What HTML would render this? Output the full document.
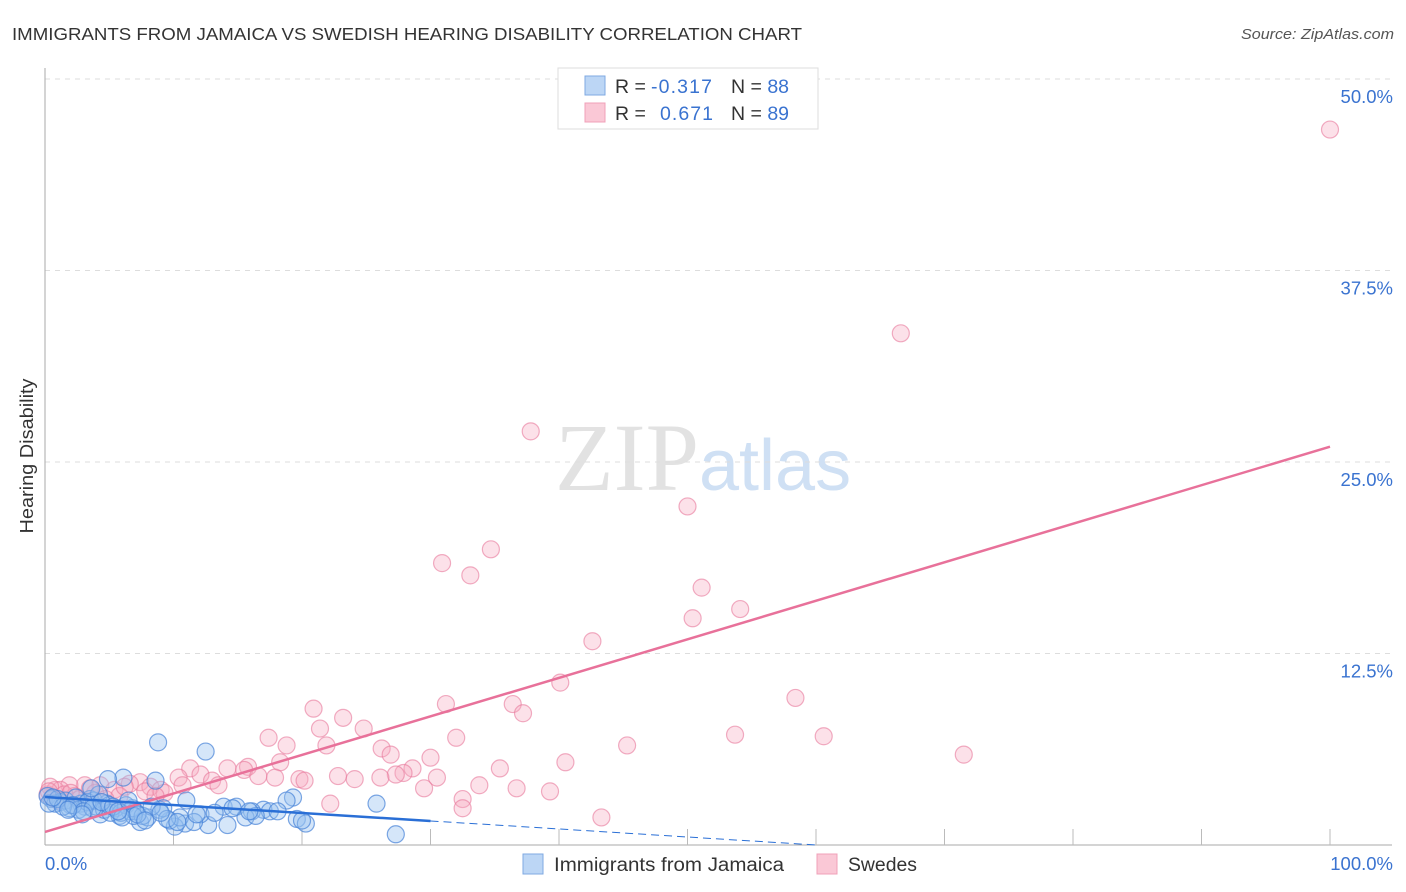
<!DOCTYPE html>
<html><head><meta charset="utf-8"><style>
body{margin:0;background:#fff;font-family:"Liberation Sans",sans-serif;}
svg{display:block}
</style></head><body>
<svg id="chart" width="1406" height="892" xmlns="http://www.w3.org/2000/svg">
<text x="12" y="40" font-size="17.5" fill="#333" textLength="790" lengthAdjust="spacingAndGlyphs">IMMIGRANTS FROM JAMAICA VS SWEDISH HEARING DISABILITY CORRELATION CHART</text>
<text x="1241" y="39" font-size="14.5" fill="#555" font-style="italic" textLength="153" lengthAdjust="spacingAndGlyphs">Source: ZipAtlas.com</text>
<text x="555" y="490" font-size="96" font-family="Liberation Serif,serif"><tspan fill="#e2e2e2">ZIP</tspan><tspan fill="#cfe0f4" font-family="Liberation Sans,sans-serif" font-size="72">atlas</tspan></text>
<text transform="translate(33,456) rotate(-90)" font-size="18" fill="#333" text-anchor="middle" textLength="155" lengthAdjust="spacingAndGlyphs">Hearing Disability</text>
<g id="grid"></g><g id="marks"></g>
<g>
<rect x="558" y="68" width="260" height="61" fill="#fff" stroke="#ddd"/>
<rect x="585" y="76" width="20" height="19" fill="#bcd6f5" stroke="#7fa9e2"/>
<rect x="585" y="103" width="20" height="19" fill="#fac8d6" stroke="#f0a0b8"/>
<text x="615" y="93" font-size="19.5" fill="#333">R = </text>
<text x="651" y="93" font-size="19.5" fill="#3a73d0" textLength="61">-0.317</text>
<text x="731" y="93" font-size="19.5" fill="#333">N = <tspan fill="#3a73d0">88</tspan></text>
<text x="615" y="120" font-size="19.5" fill="#333">R = </text>
<text x="660" y="120" font-size="19.5" fill="#3a73d0" textLength="53">0.671</text>
<text x="731" y="120" font-size="19.5" fill="#333">N = <tspan fill="#3a73d0">89</tspan></text>
</g>
<g>
<rect x="523" y="854" width="20" height="20" fill="#bcd6f5" stroke="#7fa9e2"/>
<text x="554" y="871" font-size="19" fill="#333" textLength="230" lengthAdjust="spacingAndGlyphs">Immigrants from Jamaica</text>
<rect x="817" y="854" width="20" height="20" fill="#fac8d6" stroke="#f0a0b8"/>
<text x="848" y="871" font-size="19" fill="#333" textLength="69" lengthAdjust="spacingAndGlyphs">Swedes</text>
</g>
</svg>
<script>
const yTicks=[12.5,25,37.5,50];
const yTickLabels=["12.5%","25.0%","37.5%","50.0%"];
const xTickLabels=["0.0%","100.0%"];
const pinkX=[100,66.6,37.8,50.0,34.7,30.9,33.1,51.1,54.1,50.4,42.6,40.1,58.4,31.2,36.4,37.2,20.9,23.2,24.8,21.4,53.7,60.6,32.0,17.4,18.8,21.9,45.3,26.2,71.5,26.9,30.0,40.5,18.3,11.3,35.4,28.6,15.8,14.2,15.5,27.9,27.3,26.1,30.5,22.8,24.1,19.8,20.2,17.9,16.6,12.1,10.4,13.0,13.5,10.7,33.8,29.5,36.7,39.3,32.5,32.5,22.2,43.3,7.4,8.2,9.0,6.6,4.3,3.1,1.9,0.8,0.2,5.4,3.9,2.3,1.2,0.4,5.8,9.3,4.7,2.7,1.5,0.6,6.2,7.8,3.5,1.0,0.3,8.6,2.0];
const pinkY=[46.7,33.4,27.0,22.1,19.3,18.4,17.6,16.8,15.4,14.8,13.3,10.6,9.6,9.2,9.2,8.6,8.9,8.3,7.6,7.6,7.2,7.1,7.0,7.0,6.5,6.5,6.5,6.3,5.9,5.9,5.7,5.4,5.4,5.0,5.0,5.0,5.1,5.0,4.9,4.7,4.6,4.4,4.4,4.5,4.3,4.3,4.2,4.4,4.5,4.6,4.4,4.2,3.9,3.9,3.9,3.7,3.7,3.5,3.0,2.4,2.7,1.8,4.1,3.8,3.6,4.0,3.9,3.9,3.9,3.6,3.3,3.6,3.4,3.2,3.6,3.8,3.2,3.4,3.0,3.0,3.3,3.1,3.8,3.5,3.7,2.9,3.5,3.2,3.4];
const blueX=[8.8,12.5,6.1,8.6,11.0,13.9,14.9,17.0,16.1,19.3,18.8,25.8,19.6,20.3,27.3,12.7,14.2,15.6,10.9,10.1,9.7,7.4,8.0,5.8,4.3,6.6,8.9,12.1,17.5,0.5,1.2,2.0,2.8,3.5,4.0,4.8,5.5,6.3,7.0,0.2,1.6,2.4,3.1,3.8,4.6,5.1,6.8,7.6,0.8,1.9,2.6,3.3,4.2,5.0,5.9,6.9,9.2,10.5,11.6,13.2,16.4,18.1,20.0,0.3,1.0,1.4,2.2,3.0,3.7,4.4,5.3,6.0,7.2,8.3,9.5,0.6,2.9,4.9,5.7,6.5,7.8,9.0,10.3,11.8,14.6,15.9,1.8,3.6];
const blueY=[6.7,6.1,4.4,4.2,2.9,2.5,2.5,2.3,2.2,3.1,2.9,2.7,1.7,1.4,0.7,1.3,1.3,1.8,1.4,1.2,1.6,1.5,1.8,1.9,2.0,2.2,2.3,2.0,2.2,3.0,2.8,2.6,2.7,3.0,2.5,2.7,2.4,2.6,2.2,3.2,2.9,3.1,2.5,2.9,2.3,2.1,2.4,1.9,2.7,2.4,2.3,2.8,3.3,2.6,2.1,1.9,2.4,1.8,1.5,2.1,1.9,2.2,1.6,2.7,3.0,2.5,2.6,2.2,2.4,2.8,2.5,1.8,2.0,2.5,1.7,3.1,2.0,4.3,2.2,2.9,1.6,2.1,1.5,2.0,2.4,2.2,2.3,3.7];
const pinkTrend=[0.85,26.0];
const blueTrend=[3.13,1.57,0.0];
const NS="http://www.w3.org/2000/svg";
const X=v=>45+v*12.85, Y=v=>845-v*15.32;
function mk(t,a,p){const e=document.createElementNS(NS,t);for(const k in a)e.setAttribute(k,a[k]);p.appendChild(e);return e;}
const grid=document.getElementById('grid'),marks=document.getElementById('marks');
yTicks.forEach((t,i)=>{
 const l=mk('line',{x1:45,x2:1392,y1:Y(t),y2:Y(t),stroke:'#ddd','stroke-dasharray':'5,5'},grid);
 
 
 const tx=mk('text',{x:1393,y:Y(t)+24,'font-size':18.5,fill:'#3a73d0','text-anchor':'end'},grid);
 tx.textContent=yTickLabels[i];
 
 
});
let ax=mk('line',{x1:45,x2:45,y1:68,y2:845,stroke:'#aaa'},grid);


ax=mk('line',{x1:45,x2:1392,y1:845,y2:845,stroke:'#aaa'},grid);


for(let i=1;i<=10;i++){const t=mk('line',{x1:X(i*10),x2:X(i*10),y1:829,y2:845,stroke:'#bbb'},grid);
 
 }
[[0,'start'],[100,'end']].forEach((d,i)=>{const t=mk('text',{x:i?1393:45,y:870,'font-size':18.5,fill:'#3a73d0','text-anchor':d[1]},grid);t.textContent=xTickLabels[i];
 
 });
pinkX.forEach((x,i)=>{const c=mk('circle',{cx:X(x),cy:Y(pinkY[i]),r:8.5,fill:'rgba(246,168,192,0.35)',stroke:'rgba(232,120,155,0.6)','stroke-width':1.2},marks);
 
 });
blueX.forEach((x,i)=>{const c=mk('circle',{cx:X(x),cy:Y(blueY[i]),r:8.5,fill:'rgba(150,192,240,0.4)',stroke:'rgba(70,130,215,0.7)','stroke-width':1.2},marks);
 
 });
let tl=mk('line',{x1:X(0),y1:Y(pinkTrend[0]),x2:X(100),y2:Y(pinkTrend[1]),stroke:'#e8719a','stroke-width':2.5},marks);


tl=mk('line',{x1:X(0),y1:Y(blueTrend[0]),x2:X(30),y2:Y(blueTrend[1]),stroke:'#2a6fd6','stroke-width':2.5},marks);


tl=mk('line',{x1:X(30),y1:Y(blueTrend[1]),x2:X(60),y2:Y(blueTrend[2]),stroke:'#2a6fd6','stroke-width':1,'stroke-dasharray':'8,5'},marks);


</script>
</body></html>
